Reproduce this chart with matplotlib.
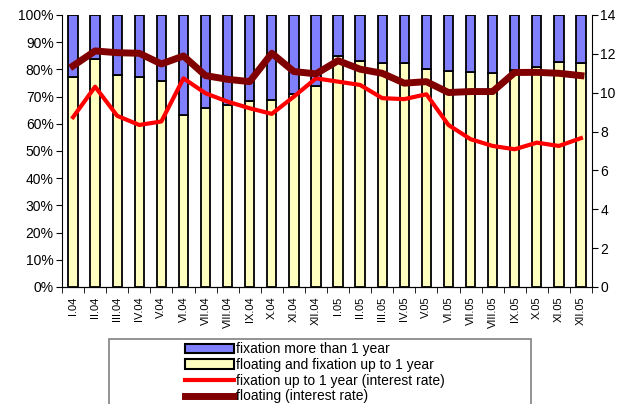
import matplotlib
matplotlib.use('Agg')
import matplotlib.pyplot as plt
from matplotlib.patches import Patch, Rectangle
from matplotlib.lines import Line2D
import numpy as np

plt.rcParams['font.family'] = ['Liberation Sans', 'DejaVu Sans']

months = ['I.04', 'II.04', 'III.04', 'IV.04', 'V.04', 'VI.04', 'VII.04', 'VIII.04',
          'IX.04', 'X.04', 'XI.04', 'XII.04', 'I.05', 'II.05', 'III.05', 'IV.05',
          'V.05', 'VI.05', 'VII.05', 'VIII.05', 'IX.05', 'X.05', 'XI.05', 'XII.05']

# share of floating and fixation up to 1 year (%), rest is fixation > 1 year
short_share = [77.1, 83.7, 78.0, 77.3, 75.9, 63.3, 65.8, 67.0, 68.2, 68.8, 71.1, 73.9,
               84.9, 83.1, 82.2, 82.5, 80.2, 79.4, 79.0, 78.5, 79.6, 81.0, 82.7, 82.3]
long_share = [100 - v for v in short_share]

# interest rates (%)
rate_fix = [8.74, 10.31, 8.81, 8.34, 8.52, 10.74, 9.97, 9.54, 9.20, 8.91, 9.80, 10.74,
            10.57, 10.40, 9.72, 9.67, 9.92, 8.34, 7.61, 7.26, 7.09, 7.43, 7.26, 7.66]
rate_float = [11.38, 12.15, 12.06, 12.03, 11.48, 11.89, 10.88, 10.69, 10.57, 12.03, 11.09, 10.97,
              11.65, 11.21, 11.00, 10.49, 10.57, 10.01, 10.06, 10.06, 11.04, 11.05, 11.00, 10.88]

blue = '#8080FF'
yellow = '#FFFFC0'

fig = plt.figure(figsize=(6.18, 4.04), dpi=100)
ax = fig.add_axes([62/618, 117/404, 530/618, 272/404])

x = np.arange(len(months))
w = 0.42
ax.bar(x, short_share, w, color=yellow, edgecolor='black', linewidth=1.3, zorder=2)
ax.bar(x, long_share, w, bottom=short_share, color=blue, edgecolor='black', linewidth=1.3, zorder=2)

ax.set_xlim(-0.5, len(months) - 0.5)
ax.set_ylim(0, 100)
ax.set_yticks(np.arange(0, 101, 10))
ax.set_yticklabels([f'{v}%' for v in range(0, 101, 10)], fontsize=10)
ax.set_xticks(x)
ax.set_xticklabels(months, rotation=90, fontsize=8)
ax.set_xticks(np.arange(-0.5, len(months)), minor=True)
ax.tick_params(axis='x', which='major', length=0, pad=7)
ax.tick_params(axis='x', which='minor', length=4, direction='out')
ax.tick_params(axis='y', length=4, direction='out', pad=2)
ax.spines['top'].set_visible(False)
ax.spines['right'].set_visible(False)

ax2 = ax.twinx()
ax2.plot(x, rate_fix, color='#FF0000', lw=3, solid_joinstyle='round', zorder=3)
ax2.plot(x, rate_float, color='#800000', lw=5, solid_joinstyle='round', zorder=4)
ax2.set_ylim(0, 14)
ax2.set_yticks(np.arange(0, 15, 2))
ax2.tick_params(axis='y', length=4, direction='out', labelsize=10, pad=2)
ax2.spines['top'].set_visible(False)
ax2.spines['left'].set_visible(False)

# legend frame, runs off the bottom of the figure
fig.patches.append(Rectangle((109/618, -0.1), 422/618, 65/404 + 0.1,
                             transform=fig.transFigure, fill=False,
                             edgecolor='#808080', linewidth=1.2))

handles = [Patch(facecolor=blue, edgecolor='black', linewidth=1.5),
           Patch(facecolor=yellow, edgecolor='black', linewidth=1.5),
           Line2D([], [], color='#FF0000', lw=3),
           Line2D([], [], color='#800000', lw=5)]
labels = ['fixation more than 1 year', 'floating and fixation up to 1 year',
          'fixation up to 1 year (interest rate)', 'floating (interest rate)']
fig.legend(handles, labels, loc='upper left', bbox_to_anchor=(184/618, 1 - 341/404),
           frameon=False, fontsize=10, handlelength=3.5, handletextpad=0.15,
           labelspacing=0.12, borderaxespad=0, borderpad=0.1)

fig.savefig('out.png', dpi=100)
